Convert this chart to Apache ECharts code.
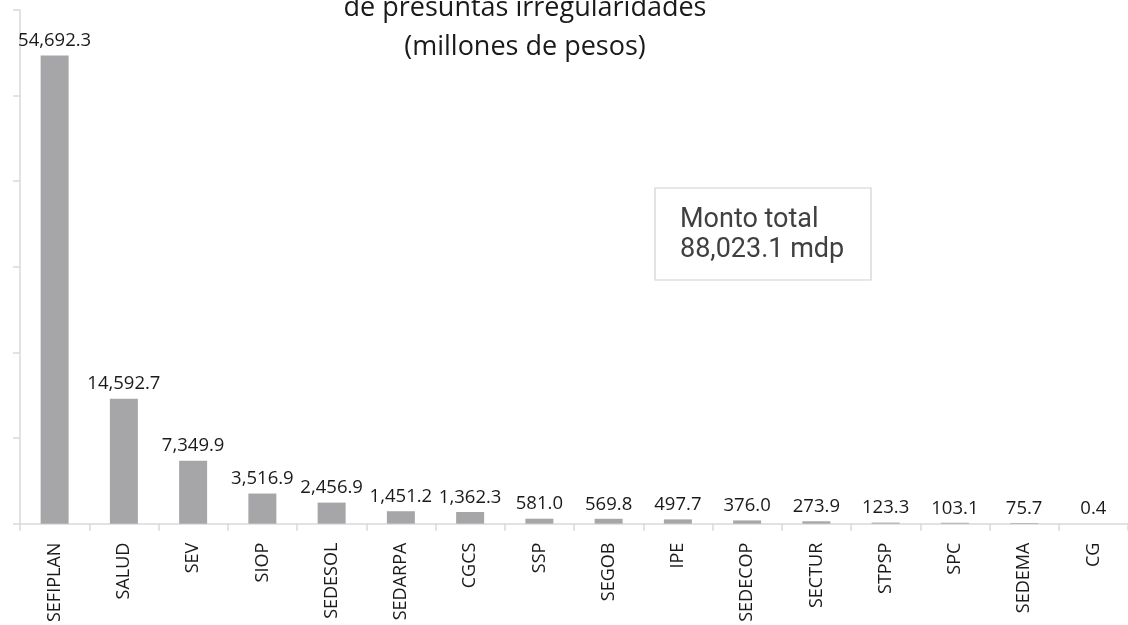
<!DOCTYPE html>
<html>
<head>
<meta charset="utf-8">
<script src="https://cdn.jsdelivr.net/npm/echarts@6/dist/echarts.min.js"></script>
<style>html,body{margin:0;padding:0;background:#fff;}#c{width:1128px;height:625px;}</style>
</head>
<body>
<div id="c"></div>
<script>
const categories = ["SEFIPLAN","SALUD","SEV","SIOP","SEDESOL","SEDARPA","CGCS","SSP","SEGOB","IPE","SEDECOP","SECTUR","STPSP","SPC","SEDEMA","CG"];
const values = [54692.3,14592.7,7349.9,3516.9,2456.9,1451.2,1362.3,581.0,569.8,497.7,376.0,273.9,123.3,103.1,75.7,0.4];
const titleLines = ["de presuntas irregularidades","(millones de pesos)"];
const boxLines = ["Monto total","88,023.1 mdp"];

const chart = echarts.init(document.getElementById('c'));
const fmt = v => v.toLocaleString('en-US',{minimumFractionDigits:1,maximumFractionDigits:1});
chart.setOption({
  animation:false,
  title:{
    text:titleLines.join('\n'),
    left:520, top:-16, textAlign:'center',
    textStyle:{fontFamily:'Open Sans',fontSize:27,fontWeight:'normal',color:'#1a1a1a',lineHeight:39}
  },
  grid:{left:20,right:-7,top:10,bottom:101,containLabel:false},
  xAxis:{
    type:'category',data:categories,
    axisLine:{lineStyle:{color:'#d9d9d9',width:1.5}},
    axisTick:{show:true,length:7,lineStyle:{color:'#d9d9d9',width:1.5}},
    axisLabel:{rotate:90,fontFamily:'Open Sans',fontSize:18,color:'#1a1a1a',margin:19}
  },
  yAxis:{
    type:'value',min:0,max:60000,interval:10000,
    axisLine:{show:true,lineStyle:{color:'#d9d9d9',width:1.5}},
    axisTick:{show:true,length:7,lineStyle:{color:'#d9d9d9',width:1.5}},
    axisLabel:{show:false},
    splitLine:{show:false}
  },
  series:[{
    type:'bar',data:values,barWidth:28,
    itemStyle:{color:'#a6a6a9'},
    label:{show:true,position:'top',distance:5,fontFamily:'Open Sans',fontSize:18.5,color:'#1a1a1a',formatter:p=>fmt(p.value)}
  }],
  graphic:[
    {type:'rect',shape:{x:655,y:188,width:216,height:92},style:{fill:'#fff',stroke:'#d0d0d0',lineWidth:1.2}},
    {type:'text',left:680,top:205,style:{text:boxLines.join('\n'),fontFamily:'Roboto',fontSize:27,lineHeight:30,fill:'#404040'}}
  ]
});
</script>
</body>
</html>
